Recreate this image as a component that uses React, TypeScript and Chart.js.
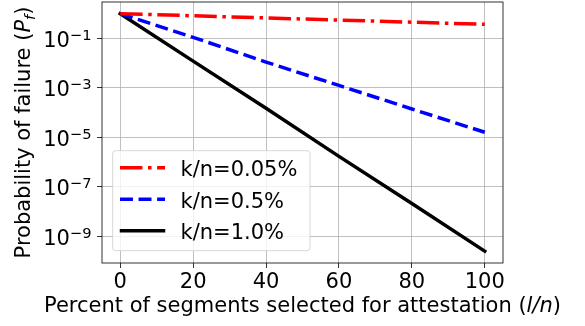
import React, { useEffect, useRef } from 'react';
import { Chart, registerables } from 'chart.js';

Chart.register(...registerables);

// ---- data ----
const X_VALUES = [0, 20, 40, 60, 80, 100];
const SERIES_LABELS = ['k/n=0.05%', 'k/n=0.5%', 'k/n=1.0%'];
const RED_VALUES = [1, 0.82, 0.67, 0.55, 0.45, 0.37];
const BLUE_VALUES = [1, 0.11, 0.011, 1.25e-3, 1.4e-4, 1.6e-5];
const BLACK_VALUES = [1, 0.012, 1.5e-4, 1.7e-6, 2.1e-8, 2.5e-10];
const X_TICKS = [0, 20, 40, 60, 80, 100];
const Y_TICK_EXPONENTS = [-1, -3, -5, -7, -9];

const FONT = '"DejaVu Sans", "Liberation Sans", sans-serif';
const FS = 21;
const FS_SMALL = 14.7;

const COLORS = ['#ff0000', '#0000ff', '#000000'];
const LW = 3.5;
const DASHES = [
  [6.4 * LW, 1.6 * LW, 1 * LW, 1.6 * LW],
  [3.7 * LW, 1.6 * LW],
  [],
];

function drawParts(ctx: CanvasRenderingContext2D, parts: any[], x: number, y: number, align: 'center' | 'left') {
  let total = 0;
  const widths = parts.map((p) => {
    ctx.font = `${p.italic ? 'italic ' : ''}${p.size}px ${FONT}`;
    const w = ctx.measureText(p.t).width;
    total += w;
    return w;
  });
  let cx = align === 'center' ? x - total / 2 : x;
  ctx.textAlign = 'left';
  ctx.textBaseline = 'alphabetic';
  parts.forEach((p, i) => {
    ctx.font = `${p.italic ? 'italic ' : ''}${p.size}px ${FONT}`;
    ctx.fillText(p.t, cx, y + (p.dy || 0));
    cx += widths[i];
  });
}

const overlayPlugin = {
  id: 'overlayPlugin',
  afterDatasetsDraw(chart: any) {
    const ctx: CanvasRenderingContext2D = chart.ctx;
    const a = chart.chartArea;
    const xs = chart.scales.x;
    const ys = chart.scales.y;
    ctx.save();
    // spines
    ctx.strokeStyle = '#000';
    ctx.lineWidth = 0.8;
    ctx.strokeRect(a.left, a.top, a.right - a.left, a.bottom - a.top);

    ctx.fillStyle = '#000';
    // y tick labels: 10^e
    Y_TICK_EXPONENTS.forEach((e) => {
      const py = ys.getPixelForValue(Math.pow(10, e));
      const exp = '\u2212' + Math.abs(e);
      ctx.font = `${FS_SMALL}px ${FONT}`;
      const ew = ctx.measureText(exp).width;
      ctx.font = `${FS}px ${FONT}`;
      const bw = ctx.measureText('10').width;
      const right = a.left - 10.5;
      ctx.textAlign = 'left';
      ctx.textBaseline = 'alphabetic';
      ctx.fillText('10', right - ew - bw, py + 8.4);
      ctx.font = `${FS_SMALL}px ${FONT}`;
      ctx.fillText(exp, right - ew, py + 1.5);
    });

    // x tick labels
    ctx.font = `${FS}px ${FONT}`;
    ctx.textAlign = 'center';
    ctx.textBaseline = 'alphabetic';
    X_TICKS.forEach((v) => {
      const px = xs.getPixelForValue(v);
      ctx.fillText(String(v), px, a.bottom + 25);
    });

    // x title
    drawParts(
      ctx,
      [
        { t: 'Percent of segments selected for attestation (', size: FS },
        { t: 'l/n', size: FS, italic: true },
        { t: ')', size: FS },
      ],
      (a.left + a.right) / 2,
      a.bottom + 49,
      'center'
    );

    // y title
    ctx.translate(30, (a.top + a.bottom) / 2);
    ctx.rotate(-Math.PI / 2);
    drawParts(
      ctx,
      [
        { t: 'Probability of failure (', size: FS },
        { t: 'P', size: FS, italic: true },
        { t: 'f', size: FS_SMALL, italic: true, dy: 4.5 },
        { t: ')', size: FS },
      ],
      0,
      0,
      'center'
    );
    ctx.restore();
  },
  afterDraw(chart: any) {
    const ctx: CanvasRenderingContext2D = chart.ctx;
    ctx.save();
    // legend box
    const bx = 112.7, by = 150.7, bw = 197.3, bh = 100;
    ctx.beginPath();
    if ((ctx as any).roundRect) (ctx as any).roundRect(bx, by, bw, bh, 3);
    else ctx.rect(bx, by, bw, bh);
    ctx.fillStyle = 'rgba(255,255,255,0.8)';
    ctx.fill();
    ctx.strokeStyle = '#cccccc';
    ctx.lineWidth = 0.8;
    ctx.stroke();

    const rowY = [167.7, 199.3, 230.7];
    const baseY = [175.7, 207.5, 238.5];
    SERIES_LABELS.forEach((label, i) => {
      const y = rowY[i];
      ctx.beginPath();
      ctx.strokeStyle = COLORS[i];
      ctx.lineWidth = LW;
      ctx.setLineDash(DASHES[i]);
      ctx.lineCap = i === 2 ? 'square' : 'butt';
      ctx.moveTo(i === 2 ? 121.5 : 120, y);
      ctx.lineTo(i === 2 ? 163.5 : 165, y);
      ctx.stroke();
      ctx.setLineDash([]);
      ctx.fillStyle = '#000';
      ctx.font = `${FS}px ${FONT}`;
      ctx.textAlign = 'left';
      ctx.textBaseline = 'alphabetic';
      ctx.fillText(label, 180.5, baseY[i]);
    });
    ctx.restore();
  },
};

export default function App() {
  const ref = useRef<HTMLCanvasElement | null>(null);
  useEffect(() => {
    document.body.style.margin = '0';
    const canvas = ref.current!;
    const series = [RED_VALUES, BLUE_VALUES, BLACK_VALUES];
    const chart = new Chart(canvas, {
      type: 'line',
      data: {
        datasets: series.map((vals, i) => ({
          label: SERIES_LABELS[i],
          data: X_VALUES.map((x, j) => ({ x, y: vals[j] })),
          borderColor: COLORS[i],
          backgroundColor: COLORS[i],
          borderWidth: LW,
          borderDash: DASHES[i],
          borderCapStyle: i === 2 ? 'square' : 'butt',
          borderJoinStyle: 'round',
          pointRadius: 0,
          tension: 0,
          fill: false,
        })),
      },
      options: {
        animation: false,
        responsive: false,
        devicePixelRatio: 1,
        layout: { padding: { top: 2, right: 82, left: 0, bottom: 0 } },
        plugins: { legend: { display: false }, tooltip: { enabled: false } },
        scales: {
          x: {
            type: 'linear',
            min: -5,
            max: 105,
            afterBuildTicks: (s: any) => {
              s.ticks = X_TICKS.map((v) => ({ value: v }));
            },
            afterFit: (s: any) => {
              s.height = 63;
            },
            ticks: { display: false },
            grid: {
              color: '#b0b0b0',
              lineWidth: 0.8,
              drawTicks: true,
              tickLength: 5,
              tickColor: '#000',
              tickWidth: 0.8,
            },
            border: { display: false },
          },
          y: {
            type: 'logarithmic',
            min: Math.pow(10, -10.08),
            max: Math.pow(10, 0.47),
            afterBuildTicks: (s: any) => {
              s.ticks = Y_TICK_EXPONENTS.map((e) => ({ value: Math.pow(10, e) }));
            },
            afterFit: (s: any) => {
              s.width = 102;
            },
            ticks: { display: false },
            grid: {
              color: '#b0b0b0',
              lineWidth: 0.8,
              drawTicks: true,
              tickLength: 5,
              tickColor: '#000',
              tickWidth: 0.8,
            },
            border: { display: false },
          },
        },
      } as any,
      plugins: [overlayPlugin],
    });
    return () => chart.destroy();
  }, []);
  return <canvas ref={ref} width={585} height={326} style={{ display: 'block' }} />;
}
